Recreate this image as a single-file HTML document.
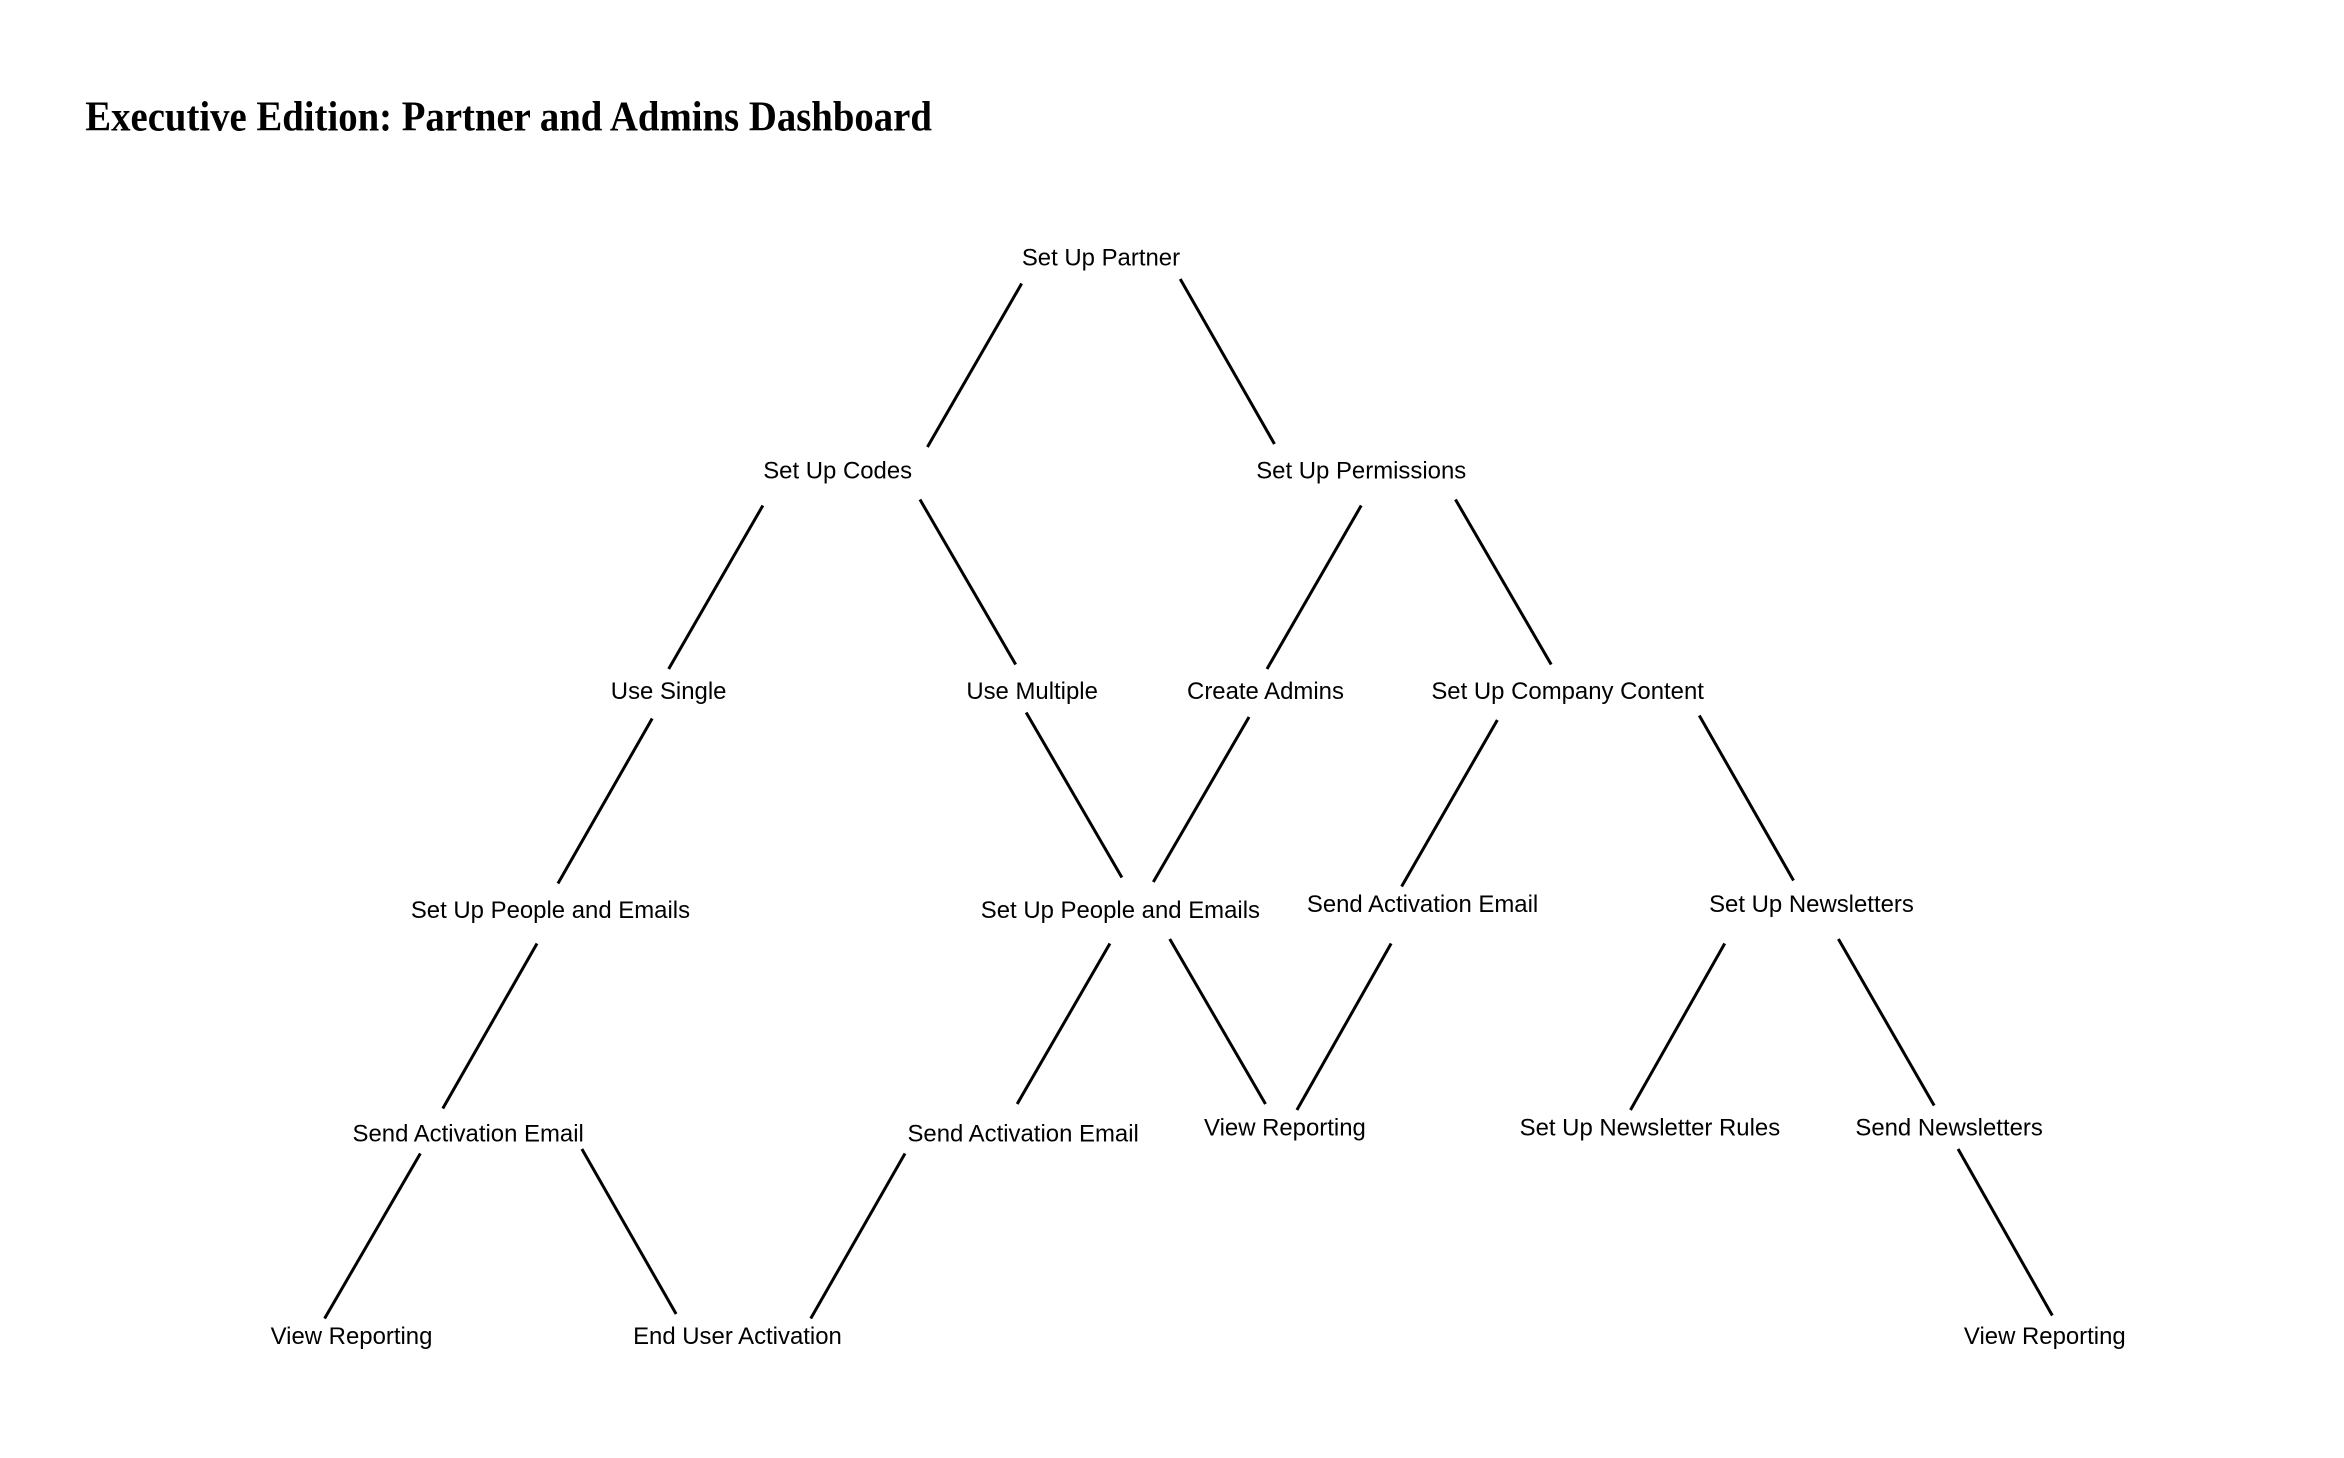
<!DOCTYPE html>
<html><head><meta charset="utf-8"><style>
html,body{margin:0;padding:0;background:#fff;width:2344px;height:1458px;overflow:hidden}
svg{display:block}
.t{font-family:"Liberation Sans",sans-serif;font-size:16px;fill:#000;text-anchor:middle;dominant-baseline:central}
</style></head><body>
<svg width="2344" height="1458" viewBox="0 0 1567 972" preserveAspectRatio="none" xmlns="http://www.w3.org/2000/svg">
<text x="57" y="87" font-family="Liberation Serif,serif" font-weight="bold" font-size="28" textLength="566" lengthAdjust="spacingAndGlyphs">Executive Edition: Partner and Admins Dashboard</text>
<g stroke="#000" stroke-width="2" stroke-linecap="butt">
<line x1="683" y1="189" x2="620" y2="298"/>
<line x1="789" y1="186" x2="852" y2="296"/>
<line x1="510" y1="337" x2="447" y2="446"/>
<line x1="615" y1="333" x2="679" y2="443"/>
<line x1="910" y1="337" x2="847" y2="446"/>
<line x1="973" y1="333" x2="1037" y2="443"/>
<line x1="436" y1="479" x2="373" y2="589"/>
<line x1="686" y1="475" x2="750" y2="585"/>
<line x1="835" y1="478" x2="771" y2="588"/>
<line x1="1001" y1="480" x2="937" y2="591"/>
<line x1="1136" y1="477" x2="1199" y2="587"/>
<line x1="359" y1="629" x2="296" y2="739"/>
<line x1="742" y1="629" x2="680" y2="736"/>
<line x1="782" y1="626" x2="846" y2="736"/>
<line x1="930" y1="629" x2="867" y2="740"/>
<line x1="1153" y1="629" x2="1090" y2="740"/>
<line x1="1229" y1="626" x2="1293" y2="737"/>
<line x1="281" y1="769" x2="217" y2="879"/>
<line x1="389" y1="766" x2="452" y2="876"/>
<line x1="605" y1="769" x2="542" y2="879"/>
<line x1="1309" y1="766" x2="1372" y2="877"/>
</g>
<text class="t" x="736" y="172">Set Up Partner</text>
<text class="t" x="560" y="314">Set Up Codes</text>
<text class="t" x="910" y="314">Set Up Permissions</text>
<text class="t" x="447" y="461">Use Single</text>
<text class="t" x="690" y="461">Use Multiple</text>
<text class="t" x="846" y="461">Create Admins</text>
<text class="t" x="1048" y="461">Set Up Company Content</text>
<text class="t" x="368" y="607">Set Up People and Emails</text>
<text class="t" x="749" y="607">Set Up People and Emails</text>
<text class="t" x="951" y="603">Send Activation Email</text>
<text class="t" x="1211" y="603">Set Up Newsletters</text>
<text class="t" x="313" y="756">Send Activation Email</text>
<text class="t" x="684" y="756">Send Activation Email</text>
<text class="t" x="859" y="752">View Reporting</text>
<text class="t" x="1103" y="752">Set Up Newsletter Rules</text>
<text class="t" x="1303" y="752">Send Newsletters</text>
<text class="t" x="235" y="891">View Reporting</text>
<text class="t" x="493" y="891">End User Activation</text>
<text class="t" x="1367" y="891">View Reporting</text>
</svg>
</body></html>
